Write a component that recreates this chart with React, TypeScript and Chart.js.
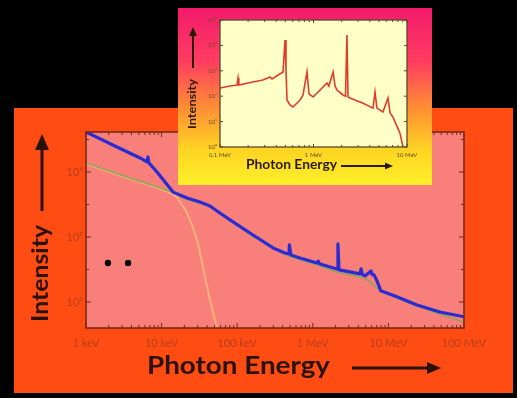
import React, { useEffect, useRef } from "react";
import { Chart, registerables } from "chart.js";
Chart.register(...registerables);

// ---------- Main chart data (energy in keV) ----------
const energyTicksKeV = [1, 10, 100, 1000, 10000, 100000];
const energyTickLabels = ["1 keV", "10 keV", "100 keV", "1 MeV", "10 MeV", "100 MeV"];
const intensityTicks = [1, 100, 10000];
const intensityTickLabels = ["10⁰", "10²", "10⁴"];

const spectrumEnergy = [1, 2.57, 5.2, 6.4, 6.6, 6.8, 8.7, 11.1, 14.2, 21.7, 32.2, 43.7, 59, 88, 162, 298, 428, 484, 490, 513, 676, 1137, 1180, 1220, 2090, 2150, 2220, 3100, 4200, 4360, 4500, 4900, 5900, 6100, 6450, 7080, 7940, 12200, 23900, 47900, 100000];
const spectrumIntensity = [170000, 59000, 27000, 20400, 29000, 19000, 10000, 4900, 2400, 1580, 1190, 900, 547, 290, 115, 46, 32, 30, 57, 28, 22.6, 15.8, 18, 15, 10.4, 61, 9.7, 8.4, 7.3, 10.4, 7.1, 6.3, 9, 6.9, 6.8, 4.4, 2.2, 1.53, 0.81, 0.49, 0.35];

const continuumEnergy = [1, 3.8, 8.7, 14.2, 21.7, 43.7, 162, 484, 1137, 2150, 4900, 7940, 23900, 100000];
const continuumIntensity = [19000, 6500, 3500, 2300, 1450, 830, 105, 26, 14, 8.2, 5.2, 2.2, 0.75, 0.24];

const thermalEnergy = [1, 3.8, 8.7, 14.9, 17.5, 21.7, 29.4, 37.5, 47.9, 56];
const thermalIntensity = [18000, 6200, 3300, 1950, 1190, 550, 81, 5.9, 0.46, 0.12];

const markerEnergy = [1.95, 3.6];
const markerIntensity = [15.8, 15.8];

// ---------- Inset data (energy in MeV) ----------
const insetXTicks = [0.1, 1, 10];
const insetXTickLabels = ["0.1 MeV", "1 MeV", "10 MeV"];
const insetYTicks = [1, 10, 100, 1000, 10000, 100000];
const insetYTickLabels = ["10⁰", "10¹", "10²", "10³", "10⁴", "10⁵"];

const insetEnergy = [0.1, 0.128, 0.152, 0.156, 0.159, 0.225, 0.288, 0.343, 0.36, 0.472, 0.496, 0.508, 0.521, 0.56, 0.604, 0.718, 0.773, 0.852, 0.895, 0.99, 1.265, 1.39, 1.46, 1.62, 1.7, 1.78, 2.07, 2.2, 2.28, 2.34, 2.45, 3.39, 4.33, 4.55, 4.77, 5.53, 6.26, 6.59, 7.08, 8.41, 9.06];
const insetIntensity = [210, 251, 275, 521, 275, 363, 436, 570, 475, 898, 16200, 1080, 71, 45, 37.6, 71, 112, 898, 123, 93, 229, 331, 251, 891, 251, 175, 112, 100, 25700, 93, 85, 53, 34, 146, 34, 24, 85, 22, 15, 3.5, 1];

const pts = (xs: number[], ys: number[]) => xs.map((x, i) => ({ x, y: ys[i] }));

function fitText(ctx: CanvasRenderingContext2D, text: string, x: number, y: number, targetW: number, font: string, color: string, vertical = false) {
  ctx.save();
  ctx.font = font;
  ctx.fillStyle = color;
  ctx.textAlign = "center";
  ctx.textBaseline = "alphabetic";
  const w = ctx.measureText(text).width;
  ctx.translate(x, y);
  if (vertical) ctx.rotate(-Math.PI / 2);
  ctx.scale(targetW / w, 1);
  ctx.fillText(text, 0, 0);
  ctx.restore();
}

function arrow(ctx: CanvasRenderingContext2D, x1: number, y1: number, x2: number, y2: number, lw: number, hl: number, hw: number, color: string) {
  const ang = Math.atan2(y2 - y1, x2 - x1);
  const bx = x2 - Math.cos(ang) * hl;
  const by = y2 - Math.sin(ang) * hl;
  ctx.save();
  ctx.strokeStyle = color;
  ctx.fillStyle = color;
  ctx.lineWidth = lw;
  ctx.beginPath();
  ctx.moveTo(x1, y1);
  ctx.lineTo(bx, by);
  ctx.stroke();
  ctx.beginPath();
  ctx.moveTo(x2, y2);
  ctx.lineTo(bx - Math.sin(ang) * hw / 2, by + Math.cos(ang) * hw / 2);
  ctx.lineTo(bx + Math.sin(ang) * hw / 2, by - Math.cos(ang) * hw / 2);
  ctx.closePath();
  ctx.fill();
  ctx.restore();
}

function drawFrame(chart: any, color: string, xMajor: number[], xMinor: number[], yMajor: number[], yMinor: number[], lw: number, big: number, small: number) {
  const ctx: CanvasRenderingContext2D = chart.ctx;
  const { left, right, top, bottom } = chart.chartArea;
  const xs = chart.scales.x;
  const ys = chart.scales.y;
  ctx.save();
  ctx.strokeStyle = color;
  ctx.lineWidth = 1;
  ctx.beginPath();
  const tx = (v: number, len: number) => {
    const p = xs.getPixelForValue(v);
    if (p < left - 0.5 || p > right + 0.5) return;
    ctx.moveTo(p, bottom); ctx.lineTo(p, bottom - len);
    ctx.moveTo(p, top); ctx.lineTo(p, top + len);
  };
  const ty = (v: number, len: number) => {
    const p = ys.getPixelForValue(v);
    if (p < top - 0.5 || p > bottom + 0.5) return;
    ctx.moveTo(left, p); ctx.lineTo(left + len, p);
    ctx.moveTo(right, p); ctx.lineTo(right - len, p);
  };
  xMajor.forEach((v) => tx(v, big));
  xMinor.forEach((v) => tx(v, small));
  yMajor.forEach((v) => ty(v, big));
  yMinor.forEach((v) => ty(v, small));
  ctx.stroke();
  ctx.lineWidth = lw;
  ctx.strokeRect(left, top, right - left, bottom - top);
  ctx.restore();
}

const minorsOf = (majors: number[]) => {
  const out: number[] = [];
  majors.forEach((d) => { for (let m = 2; m <= 9; m++) out.push(d * m); });
  return out;
};

const mainDecor = {
  id: "mainDecor",
  beforeDraw(chart: any) {
    const { ctx, width, height, chartArea: a } = chart;
    ctx.save();
    ctx.fillStyle = "#000";
    ctx.fillRect(0, 0, width, height);
    ctx.fillStyle = "#ff4c12";
    ctx.fillRect(14, 108, 499, 285);
    ctx.fillStyle = "#f9807a";
    ctx.fillRect(a.left, a.top, a.right - a.left, a.bottom - a.top);
    ctx.restore();
  },
  afterDraw(chart: any) {
    const ctx = chart.ctx;
    drawFrame(chart, "#7a2814", energyTicksKeV, minorsOf(energyTicksKeV.slice(0, 5)), intensityTicks, [10, 1000, 100000], 1.6, 5, 3);
    fitText(ctx, "Photon Energy", 238.5, 374, 183, "bold 24px Lato, 'DejaVu Sans', sans-serif", "#2a1208");
    arrow(ctx, 352, 368, 441, 368, 3, 14, 12, "#2a1208");
    fitText(ctx, "Intensity", 48, 273.5, 97, "bold 22px Lato, 'DejaVu Sans', sans-serif", "#2a1208", true);
    arrow(ctx, 42, 211, 42, 134, 3, 16, 14, "#2a1208");
  },
};

const insetDecor = {
  id: "insetDecor",
  beforeDraw(chart: any) {
    const { ctx, width, height, chartArea: a } = chart;
    ctx.save();
    const g = ctx.createLinearGradient(0, 0, 0, height);
    g.addColorStop(0, "#f21a6c");
    g.addColorStop(0.3, "#ff3c60");
    g.addColorStop(0.55, "#ff8a36");
    g.addColorStop(0.8, "#ffd422");
    g.addColorStop(1, "#fff02a");
    ctx.fillStyle = g;
    ctx.fillRect(0, 0, width, height);
    ctx.fillStyle = "#ffffc8";
    ctx.fillRect(a.left, a.top, a.right - a.left, a.bottom - a.top);
    ctx.restore();
  },
  afterDraw(chart: any) {
    const ctx = chart.ctx;
    drawFrame(chart, "#5a4a2a", insetXTicks, minorsOf([0.1, 1]), insetYTicks, [], 1.3, 3, 2);
    fitText(ctx, "Photon Energy", 113.5, 161, 91, "bold 13px Lato, 'DejaVu Sans', sans-serif", "#2a1a08");
    arrow(ctx, 163, 158, 215, 158, 2, 8, 7, "#2a1a08");
    fitText(ctx, "Intensity", 18, 96, 50, "bold 11px Lato, 'DejaVu Sans', sans-serif", "#2a1a08", true);
    arrow(ctx, 15, 60, 15, 19, 2, 9, 8, "#2a1a08");
  },
};

export default function App() {
  const mainRef = useRef<HTMLCanvasElement>(null);
  const insetRef = useRef<HTMLCanvasElement>(null);

  useEffect(() => {
    const tickFont = { family: "Lato, 'DejaVu Sans', sans-serif", size: 11 };
    const main = new Chart(mainRef.current!, {
      type: "line",
      data: {
        datasets: [
          { label: "markers", data: pts(markerEnergy, markerIntensity), showLine: false, pointRadius: 3.2, pointBackgroundColor: "#000", pointBorderWidth: 0 },
          { label: "spectrum", data: pts(spectrumEnergy, spectrumIntensity), borderColor: "#2b2bd4", borderWidth: 3.2, pointRadius: 0, tension: 0, borderJoinStyle: "round" },
          { label: "continuum", data: pts(continuumEnergy, continuumIntensity), borderColor: "#8aa65a", borderWidth: 1.6, pointRadius: 0, tension: 0.3 },
          { label: "thermal", data: pts(thermalEnergy, thermalIntensity), borderColor: "#ffb07a", borderWidth: 2, pointRadius: 0, tension: 0.3 },
        ],
      } as any,
      options: {
        animation: false,
        responsive: false,
        events: [],
        layout: { padding: { left: 56, top: 132, right: 53, bottom: 46 } },
        plugins: { legend: { display: false }, tooltip: { enabled: false } },
        scales: {
          x: {
            type: "logarithmic",
            min: 1,
            max: 100000,
            afterBuildTicks: (s: any) => { s.ticks = energyTicksKeV.map((v) => ({ value: v })); },
            afterFit: (s: any) => { s.height = 24; },
            ticks: { autoSkip: false, maxRotation: 0, padding: 9, color: "#b8401e", font: tickFont, callback: (_v: any, i: number) => energyTickLabels[i] },
            grid: { display: false, drawTicks: false },
            border: { display: false },
          },
          y: {
            type: "logarithmic",
            min: 0.158,
            max: 170000,
            afterBuildTicks: (s: any) => { s.ticks = intensityTicks.map((v) => ({ value: v })); },
            afterFit: (s: any) => { s.width = 30; },
            ticks: { autoSkip: false, padding: 3, color: "#b8401e", font: tickFont, callback: (_v: any, i: number) => intensityTickLabels[i] },
            grid: { display: false, drawTicks: false },
            border: { display: false },
          },
        },
      } as any,
      plugins: [mainDecor],
    });

    const insetFont = { family: "Lato, 'DejaVu Sans', sans-serif", size: 6 };
    const inset = new Chart(insetRef.current!, {
      type: "line",
      data: {
        datasets: [
          { label: "inset", data: pts(insetEnergy, insetIntensity), borderColor: "#e23a2c", borderWidth: 1.6, pointRadius: 0, tension: 0 },
        ],
      } as any,
      options: {
        animation: false,
        responsive: false,
        events: [],
        layout: { padding: { left: 20, top: 12, right: 25, bottom: 24 } },
        plugins: { legend: { display: false }, tooltip: { enabled: false } },
        scales: {
          x: {
            type: "logarithmic",
            min: 0.1,
            max: 10,
            afterBuildTicks: (s: any) => { s.ticks = insetXTicks.map((v) => ({ value: v })); },
            afterFit: (s: any) => { s.height = 14; },
            ticks: { autoSkip: false, maxRotation: 0, padding: 4, color: "#6a4a20", font: insetFont, callback: (_v: any, i: number) => insetXTickLabels[i] },
            grid: { display: false, drawTicks: false },
            border: { display: false },
          },
          y: {
            type: "logarithmic",
            min: 1,
            max: 100000,
            afterBuildTicks: (s: any) => { s.ticks = insetYTicks.map((v) => ({ value: v })); },
            afterFit: (s: any) => { s.width = 22; },
            ticks: { autoSkip: false, padding: 3, color: "#6a4a20", font: insetFont, callback: (_v: any, i: number) => insetYTickLabels[i] },
            grid: { display: false, drawTicks: false },
            border: { display: false },
          },
        },
      } as any,
      plugins: [insetDecor],
    });

    return () => {
      main.destroy();
      inset.destroy();
    };
  }, []);

  return (
    <div style={{ position: "fixed", left: 0, top: 0, width: 517, height: 398, background: "#000", overflow: "hidden" }}>
      <canvas ref={mainRef} width={517} height={398} style={{ position: "absolute", left: 0, top: 0, width: 517, height: 398 }} />
      <canvas ref={insetRef} width={254} height={177} style={{ position: "absolute", left: 178, top: 8, width: 254, height: 177 }} />
    </div>
  );
}
